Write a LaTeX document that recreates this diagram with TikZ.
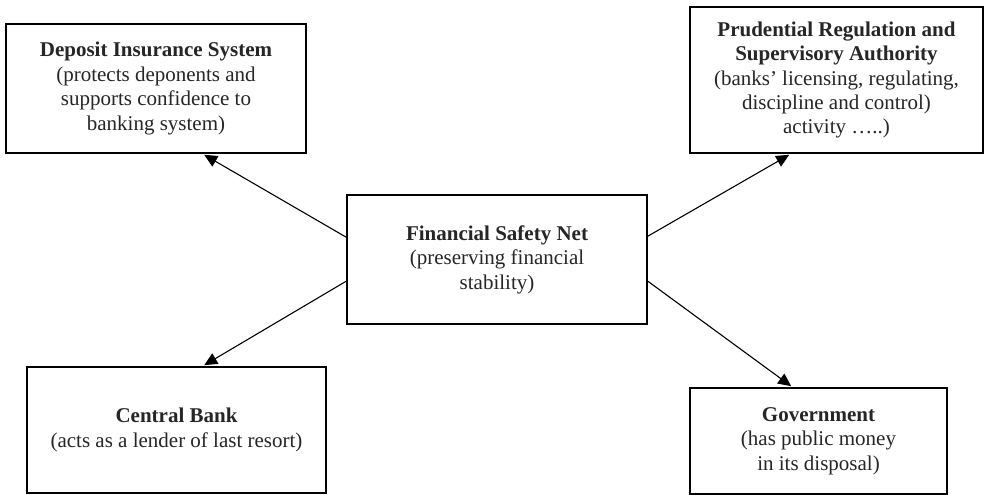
\documentclass[tikz,border=0pt]{standalone}
\usepackage{fontspec}
\setmainfont{Liberation Serif}
\usetikzlibrary{arrows.meta,calc}
\begin{document}
\begin{tikzpicture}[x=1pt,y=-1pt,
  boxnode/.style={draw=black,line width=1.6pt,fill=white,align=center,inner sep=0pt,
    font=\fontsize{21}{24.4}\selectfont,text=black!85},
  conn/.style={line width=1.1pt,-{Triangle[length=13pt,width=12pt]}}]
\useasboundingbox (0,0) rectangle (986,495);
\node[boxnode,minimum width=300pt,minimum height=129pt] (dis) at (156,88.5)
  {\textbf{Deposit Insurance System}\\(protects deponents and\\supports confidence to\\banking system)};
\node[boxnode,minimum width=293pt,minimum height=146pt] (pra) at (836.5,80)
  {\textbf{Prudential Regulation and}\\\textbf{Supervisory Authority}\\(banks’ licensing, regulating,\\discipline and control)\\activity …..)};
\node[boxnode,minimum width=300pt,minimum height=129pt] (fsn) at (497,259.5)
  {\textbf{Financial Safety Net}\\(preserving financial\\stability)};
\node[boxnode,minimum width=299pt,minimum height=126pt] (cb) at (176.5,430)
  {\textbf{Central Bank}\\(acts as a lender of last resort)};
\node[boxnode,minimum width=257pt,minimum height=106pt] (gov) at (818.5,441)
  {\textbf{Government}\\(has public money\\in its disposal)};
\coordinate (fl1) at ($(fsn.north west)+(0,43)$);
\coordinate (fl2) at ($(fsn.north west)+(0,87)$);
\coordinate (fr1) at ($(fsn.north east)+(0,42)$);
\coordinate (fr2) at ($(fsn.north east)+(0,87)$);
\coordinate (dt) at ($(dis.south west)+(199,1)$);
\coordinate (pt) at ($(pra.south west)+(100,1)$);
\coordinate (ct) at ($(cb.north west)+(178,-1)$);
\coordinate (gt) at ($(gov.north west)+(102,-1)$);
\draw[conn] (fl1) -- (dt);
\draw[conn] (fr1) -- (pt);
\draw[conn] (fl2) -- (ct);
\draw[conn] (fr2) -- (gt);
\end{tikzpicture}
\end{document}
